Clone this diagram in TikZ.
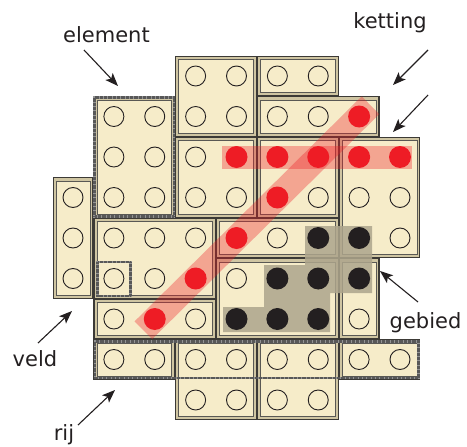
\documentclass[tikz,border=0pt]{standalone}
\usepackage{fontspec}
\setmainfont{DejaVu Sans}
\usetikzlibrary{arrows.meta}
\definecolor{cream}{HTML}{F6ECC9}
\definecolor{khaki}{HTML}{CFC5A2}
\definecolor{edge}{HTML}{3C3A36}
\definecolor{ink}{HTML}{231F20}
\definecolor{hred}{HTML}{EE1C25}
\definecolor{gebiedgrey}{HTML}{ADA58C}
\tikzset{
 blkouter/.style={fill=khaki, draw=edge, line width=1.1pt},
 blkinner/.style={fill=cream, draw=edge!85, line width=0.6pt},
 hole/.style={draw=ink, line width=0.9pt},
 reddot/.style={fill=hred},
 blackdot/.style={fill=ink},
 band/.style={draw=hred, draw opacity=0.34, line width=25pt},
 hbandst/.style={fill=hred, fill opacity=0.34},
 gebiedst/.style={fill=gebiedgrey, fill opacity=0.85},
 hatch/.style={draw=black!42, line width=2.4pt},
 hatchtex/.style={draw=black, line width=2.4pt, dash pattern=on 0.5pt off 0.8pt, draw opacity=0.4},
 lbl/.style={font=\fontsize{21}{25}\selectfont, text=ink, anchor=base, inner sep=0pt},
 arr/.style={draw=ink, line width=1.1pt, -{Stealth[length=13pt, width=10pt, inset=3pt]}},
}
\newcommand\blk[4]{%
 \pgfmathsetmacro\xa{73+40.875*(#1-0.5)+0.6}%
 \pgfmathsetmacro\xb{73+40.875*(#2+0.5)-0.6}%
 \pgfmathsetmacro\ya{76+40.5*(#3-0.5)+0.6}%
 \pgfmathsetmacro\yb{76+40.5*(#4+0.5)-0.6}%
 \path[blkouter] (\xa,\ya) rectangle (\xb,\yb);
 \path[blkinner] (\xa+3,\ya+3) rectangle (\xb-3,\yb-3);
}
\newcommand\hatchbox[4]{%
 \path[hatch] (#1,#2) rectangle (#3,#4);
 \path[hatchtex] (#1,#2) rectangle (#3,#4);
}
\begin{document}
\begin{tikzpicture}[x=1pt,y=-1pt]
\useasboundingbox (0,0) rectangle (467,447);
% blocks
\blk{3}{4}{0}{1}
\blk{5}{6}{0}{0}
\blk{5}{7}{1}{1}
\blk{1}{2}{1}{3}
\blk{3}{4}{2}{3}
\blk{5}{6}{2}{3}
\blk{7}{8}{2}{4}
\blk{0}{0}{3}{5}
\blk{1}{3}{4}{5}
\blk{4}{6}{4}{4}
\blk{1}{3}{6}{6}
\blk{4}{6}{5}{6}
\blk{7}{7}{5}{6}
\blk{1}{2}{7}{7}
\blk{3}{4}{7}{8}
\blk{5}{6}{7}{8}
\blk{7}{8}{7}{7}
% hatched frames: element, veld, rij
\hatchbox{94.5}{97.5}{174}{216.5}
\hatchbox{97.5}{262}{130.5}{296}
\hatchbox{95}{341.5}{418.5}{378}
% gebied
\path[gebiedst] (305,226) -- (372,226) -- (372,293) -- (330,293) -- (330,332)
  -- (223,332) -- (223,307) -- (264,307) -- (264,265) -- (305,265) -- cycle;
% ketting bands
\path[hbandst] (222,146) rectangle (412,169);
\coordinate (dA) at (154.75,319);
\coordinate (dB) at (359.1,116.5);
\draw[band, shorten <=-16pt, shorten >=-16pt] (dA) -- (dB);
% holes
\foreach \c/\r in {3/0,4/0,5/0,6/0, 1/1,2/1,3/1,4/1,5/1,6/1, 1/2,2/2,3/2,
  0/3,1/3,2/3,3/3,4/3,6/3,7/3,8/3, 0/4,1/4,2/4,3/4,5/4,8/4, 0/5,1/5,2/5,4/5,
  1/6,3/6,7/6, 1/7,2/7,3/7,4/7,5/7,6/7,7/7,8/7, 3/8,4/8,5/8,6/8}
  \draw[hole] ({73+40.875*\c},{76+40.5*\r}) circle[radius=10pt];
\foreach \c/\r in {7/1,4/2,5/2,6/2,7/2,8/2,5/3,4/4,3/5,2/6}
  \fill[reddot] ({73+40.875*\c},{76+40.5*\r}) circle[radius=11pt];
\foreach \c/\r in {6/4,7/4,5/5,6/5,7/5,4/6,5/6,6/6}
  \fill[blackdot] ({73+40.875*\c},{76+40.5*\r}) circle[radius=11pt];
% labels
\node[lbl] (element) at (106.5,42) {element};
\node[lbl] (ketting) at (390,28) {ketting};
\node[lbl] (gebied) at (425.5,328) {gebied};
\node[lbl] (veld) at (35,366) {veld};
\node[lbl] (rij) at (64,440) {rij};
% arrows
\coordinate (eS) at (84,50);   \coordinate (eT) at (118,86);
\coordinate (k1S) at (428,50); \coordinate (k1T) at (393,85);
\coordinate (k2S) at (428,95); \coordinate (k2T) at (393,132);
\coordinate (gS) at (418,302); \coordinate (gT) at (380,271);
\coordinate (vS) at (38,343);  \coordinate (vT) at (72,311);
\coordinate (rS) at (78,425);  \coordinate (rT) at (115,390);
\draw[arr] (eS) -- (eT);
\draw[arr] (k1S) -- (k1T);
\draw[arr] (k2S) -- (k2T);
\draw[arr] (gS) -- (gT);
\draw[arr] (vS) -- (vT);
\draw[arr] (rS) -- (rT);
\end{tikzpicture}
\end{document}
